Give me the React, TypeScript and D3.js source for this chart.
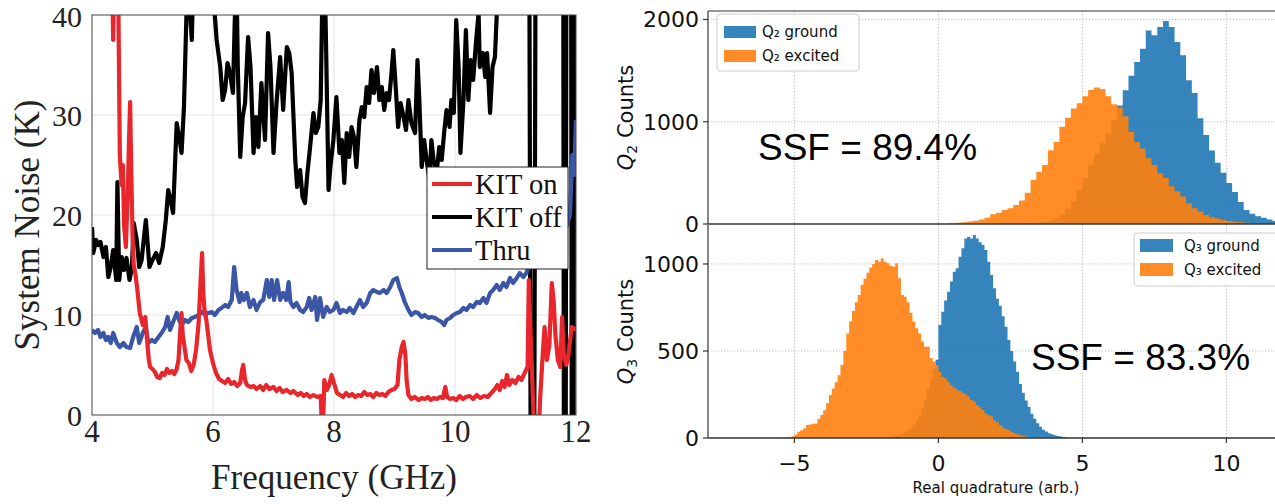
import * as d3 from "d3";

// ---------- left panel: system noise (K) vs frequency (GHz) ----------
const kitOn: [number, number][] = [
  [4.33, 45], [4.35, 37.5], [4.37, 45], [4.43, 45], [4.46, 26], [4.49, 23], [4.51, 25], [4.53, 19],
  [4.56, 16.8], [4.59, 22], [4.61, 27], [4.63, 31.3], [4.65, 24], [4.67, 18], [4.69, 15], [4.72, 14],
  [4.75, 12.5], [4.79, 10.2], [4.84, 9], [4.88, 9.8], [4.91, 7.5], [4.94, 5.5], [4.96, 4.8], [5.0, 4.6],
  [5.04, 4.3], [5.08, 3.8], [5.12, 3.7], [5.16, 4.2], [5.2, 4.0], [5.24, 4.6], [5.28, 4.2], [5.32, 4.4],
  [5.36, 4.1], [5.4, 4.6], [5.43, 5.5], [5.46, 8.5], [5.48, 10.2], [5.5, 8], [5.53, 6.8], [5.56, 5.5],
  [5.6, 5.2], [5.64, 4.4], [5.68, 5], [5.72, 6.5], [5.76, 9], [5.8, 14], [5.82, 16.2], [5.84, 12],
  [5.86, 10.5], [5.89, 9.5], [5.92, 8], [5.95, 6.5], [6.0, 5.2], [6.05, 4.2], [6.1, 3.6], [6.15, 3.4],
  [6.2, 3.2], [6.25, 3.6], [6.3, 3.1], [6.35, 3.3], [6.4, 2.9], [6.45, 3.2], [6.48, 4.5], [6.5, 5.0],
  [6.53, 3.5], [6.56, 3.0], [6.62, 2.8], [6.67, 2.9], [6.72, 2.6], [6.78, 2.9], [6.83, 2.5], [6.88, 3.0],
  [6.93, 2.6], [7.0, 2.8], [7.05, 2.4], [7.1, 2.7], [7.15, 2.3], [7.22, 2.5], [7.28, 2.2], [7.33, 2.4],
  [7.4, 2.0], [7.45, 2.2], [7.5, 1.9], [7.55, 2.1], [7.6, 1.8], [7.66, 2.0], [7.72, 1.8], [7.78, 1.9],
  [7.8, -1], [7.82, -1], [7.84, 3.5], [7.88, 2.5], [7.92, 3.0], [7.96, 4.0], [8.0, 3.2], [8.05, 2.2],
  [8.1, 2.0], [8.15, 1.8], [8.2, 2.2], [8.25, 1.9], [8.3, 2.1], [8.35, 1.8], [8.4, 2.0], [8.45, 1.9],
  [8.5, 2.3], [8.55, 2.0], [8.6, 2.1], [8.65, 1.8], [8.7, 2.2], [8.75, 2.0], [8.8, 2.1], [8.85, 1.9],
  [8.9, 2.3], [8.95, 2.5], [9.0, 2.6], [9.05, 3], [9.08, 5.5], [9.12, 6.8], [9.15, 7.3], [9.18, 6.0],
  [9.2, 3.5], [9.23, 2.0], [9.28, 1.6], [9.33, 1.8], [9.4, 1.5], [9.45, 1.7], [9.5, 1.6], [9.55, 1.8],
  [9.6, 1.5], [9.65, 1.7], [9.7, 1.6], [9.75, 1.8], [9.8, 1.7], [9.84, 2.8], [9.87, 1.8], [9.92, 1.6],
  [9.97, 1.7], [10.02, 1.5], [10.08, 1.9], [10.13, 1.6], [10.18, 1.8], [10.24, 1.9], [10.3, 1.6],
  [10.36, 2.0], [10.42, 1.7], [10.48, 1.9], [10.54, 1.8], [10.6, 2.2], [10.66, 2.6], [10.7, 3.0],
  [10.74, 2.5], [10.78, 3.4], [10.82, 2.8], [10.86, 4.0], [10.9, 3.0], [10.95, 3.5], [11.0, 3.2],
  [11.05, 3.8], [11.1, 3.5], [11.15, 4.2], [11.2, 4.8], [11.22, 13.5], [11.25, 8], [11.28, 3],
  [11.31, -2], [11.38, -2], [11.41, 2], [11.45, 6], [11.48, 8.8], [11.52, 5.5], [11.56, 7], [11.6, 13.2],
  [11.63, 11.5], [11.66, 8], [11.7, 5.5], [11.74, 4.8], [11.77, 9.8], [11.8, 6], [11.84, 5], [11.87, 5.8],
  [11.93, 8.8], [12.0, 8.5],
];

const kitOff: [number, number][] = [
  [4.0, 18.8], [4.02, 16.2], [4.07, 17.5], [4.1, 17.0], [4.14, 17.3], [4.19, 15.8], [4.23, 16.8],
  [4.27, 13.8], [4.31, 14.8], [4.35, 16.5], [4.4, 13.5], [4.42, 23.3], [4.45, 13.5], [4.49, 15.8],
  [4.53, 14.5], [4.57, 15.7], [4.62, 13.5], [4.66, 14.8], [4.69, 19.2], [4.74, 17.5], [4.78, 14.8],
  [4.82, 15.5], [4.89, 19.5], [4.95, 14.8], [5.0, 15.5], [5.06, 16.2], [5.11, 15.2], [5.17, 16.8],
  [5.22, 19.5], [5.26, 22.5], [5.3, 21.5], [5.34, 20.2], [5.4, 29.2], [5.45, 27.5], [5.48, 26.2],
  [5.52, 30.8], [5.56, 39.8], [5.59, 43], [5.65, 37.5], [5.67, 43], [6.01, 43], [6.03, 40], [6.06, 37.5],
  [6.12, 34.8], [6.16, 31.5], [6.2, 32.5], [6.24, 35.2], [6.28, 34.2], [6.33, 32.2], [6.36, 39.5],
  [6.39, 43], [6.41, 34.8], [6.45, 25.8], [6.49, 29.8], [6.53, 31.2], [6.58, 37.8], [6.62, 34.8],
  [6.67, 26.2], [6.71, 29.8], [6.75, 26.8], [6.8, 33.2], [6.86, 27.5], [6.91, 38.2], [6.95, 34.8],
  [7.0, 26.2], [7.05, 31.2], [7.11, 35.8], [7.16, 30.5], [7.22, 36.8], [7.26, 36.2], [7.3, 34.2],
  [7.36, 25.5], [7.39, 22.8], [7.44, 24.5], [7.48, 21.8], [7.52, 21.2], [7.56, 24.2], [7.6, 26.5],
  [7.66, 30.2], [7.7, 28.2], [7.74, 28.8], [7.78, 31.5], [7.81, 43], [7.85, 43], [7.87, 36.5],
  [7.91, 22.5], [7.94, 24.8], [7.99, 27.5], [8.04, 31.8], [8.09, 26.2], [8.13, 27.5], [8.17, 23.2],
  [8.21, 28.2], [8.25, 25.8], [8.29, 28.8], [8.33, 27.8], [8.37, 24.8], [8.42, 29.5], [8.46, 30.8],
  [8.5, 29.8], [8.54, 32.8], [8.58, 31.2], [8.62, 34.5], [8.66, 32.2], [8.71, 34.8], [8.75, 31.5],
  [8.79, 32.8], [8.83, 30.5], [8.87, 32.2], [8.91, 31.5], [8.95, 34.2], [8.98, 36.5], [9.02, 32.8],
  [9.06, 28.8], [9.1, 31.2], [9.15, 29.8], [9.19, 28.5], [9.23, 31.5], [9.28, 29.2], [9.34, 28.2],
  [9.38, 35.5], [9.41, 31.5], [9.45, 24.8], [9.49, 27.5], [9.53, 25.5], [9.58, 23.5], [9.61, 27.5],
  [9.65, 25.2], [9.7, 24.5], [9.74, 26.8], [9.78, 25.5], [9.82, 28.2], [9.86, 30.5], [9.91, 28.8],
  [9.94, 31.5], [9.98, 30.2], [10.02, 39.5], [10.06, 34.8], [10.09, 26.2], [10.14, 31.5], [10.18, 38.5],
  [10.22, 31.5], [10.26, 35.5], [10.3, 33.5], [10.35, 37.5], [10.39, 40.2], [10.41, 34.8], [10.46, 36.2],
  [10.5, 33.8], [10.53, 36.2], [10.58, 30.2], [10.62, 34.8], [10.66, 35.8], [10.69, 40], [10.72, 43],
  [11.23, 43], [11.25, -3], [11.31, -3], [11.33, 43], [11.79, 43], [11.8, -3], [11.83, -3], [11.84, 43],
  [11.92, 43], [11.93, -3], [11.96, -3], [11.97, 43], [12.0, 43],
];

const thru: [number, number][] = [
  [4.0, 8.5], [4.05, 8.2], [4.1, 8.5], [4.14, 7.8], [4.19, 8.2], [4.23, 7.5], [4.27, 7.8], [4.31, 7.2],
  [4.35, 8.2], [4.41, 7.2], [4.46, 6.8], [4.52, 7.2], [4.57, 6.8], [4.63, 6.7], [4.68, 7.8], [4.74, 8.8],
  [4.78, 7.2], [4.84, 8.2], [4.89, 8.8], [4.93, 7.2], [4.99, 7.5], [5.04, 7.3], [5.1, 7.8], [5.15, 8.2],
  [5.21, 8.8], [5.25, 9.8], [5.29, 8.5], [5.34, 9.3], [5.4, 10.2], [5.44, 9.5], [5.48, 9.0], [5.54, 9.5],
  [5.59, 9.3], [5.65, 9.7], [5.7, 9.8], [5.76, 10.0], [5.81, 10.3], [5.87, 10.0], [5.92, 10.2],
  [5.98, 10.3], [6.03, 10.0], [6.09, 10.5], [6.14, 10.7], [6.2, 11.0], [6.25, 10.8], [6.31, 11.5],
  [6.35, 14.8], [6.39, 12.5], [6.44, 11.3], [6.47, 12.2], [6.51, 11.5], [6.56, 12.2], [6.61, 10.8],
  [6.67, 11.5], [6.72, 10.5], [6.78, 11.3], [6.83, 11.5], [6.89, 13.5], [6.93, 11.8], [6.97, 13.5],
  [7.01, 11.5], [7.06, 13.5], [7.11, 11.5], [7.16, 12.2], [7.21, 11.5], [7.25, 13.3], [7.28, 11.3],
  [7.33, 10.8], [7.38, 11.2], [7.44, 10.5], [7.49, 10.3], [7.55, 10.8], [7.59, 11.7], [7.63, 10.5],
  [7.69, 11.8], [7.72, 9.5], [7.77, 11.7], [7.82, 9.8], [7.88, 10.8], [7.93, 10.3], [7.99, 10.5],
  [8.04, 11.2], [8.1, 10.2], [8.15, 10.5], [8.21, 10.3], [8.26, 10.7], [8.32, 10.2], [8.37, 10.8],
  [8.43, 11.5], [8.48, 10.8], [8.54, 11.2], [8.6, 12.2], [8.65, 12.5], [8.71, 12.3], [8.76, 12.2],
  [8.82, 12.5], [8.87, 12.2], [8.93, 12.8], [8.98, 13.5], [9.04, 13.7], [9.08, 12.8], [9.12, 12.2],
  [9.17, 11.3], [9.23, 10.5], [9.28, 10.0], [9.34, 10.3], [9.39, 10.2], [9.45, 9.8], [9.5, 10.0],
  [9.56, 9.7], [9.61, 9.8], [9.67, 9.7], [9.72, 9.5], [9.78, 9.3], [9.82, 9.0], [9.86, 9.5], [9.92, 9.7],
  [9.97, 10.0], [10.03, 10.2], [10.08, 10.3], [10.14, 10.7], [10.19, 10.5], [10.25, 11.0], [10.3, 10.8],
  [10.36, 11.3], [10.41, 11.2], [10.47, 11.7], [10.52, 11.2], [10.58, 12.2], [10.63, 12.5], [10.69, 13.0],
  [10.74, 12.5], [10.8, 13.2], [10.85, 12.8], [10.91, 13.7], [10.96, 13.2], [11.02, 13.7], [11.07, 14.2],
  [11.13, 13.8], [11.18, 14.2], [11.24, 15.2], [11.4, 16], [11.6, 17], [11.8, 18], [11.9, 20],
  [11.94, 26], [11.97, 24], [12.0, 29.5],
];

const noiseTicksX = [4, 6, 8, 10, 12];
const noiseTicksY = [0, 10, 20, 30, 40];
const noiseLegend = ["KIT on", "KIT off", "Thru"];

// ---------- right panels: histograms of the real quadrature ----------
const q2BinWidth = 0.2;
const q2GroundStart = 3.0;
const q2Ground = [
  4, 8, 14, 22, 35, 55, 90, 150, 220, 330, 450, 580, 690, 790, 888, 1015, 1160, 1308, 1450, 1584,
  1715, 1893, 1845, 1926, 1984, 1926, 1780, 1650, 1405, 1280, 1035, 870, 720, 600, 500, 400, 312, 215,
  137, 100, 75, 60, 45, 30,
];
const q2ExcitedStart = 0.4;
const q2Excited = [
  8, 12, 18, 25, 32, 45, 60, 95, 110, 137, 154, 185, 230, 306, 430, 510, 576, 722, 803, 950, 1038,
  1130, 1180, 1250, 1310, 1335, 1320, 1250, 1170, 1140, 1054, 900, 803, 738, 644, 576, 497, 449, 370,
  320, 270, 202, 154, 120, 88, 66, 55, 39, 30, 23, 18, 12, 8, 5, 3,
];

const q3BinWidth = 0.1;
const q3GroundStart = -2.0;
const q3Ground = [
  2, 3, 5, 7, 10, 14, 18, 24, 32, 42, 55, 75, 100, 130, 170, 220, 280, 340, 400, 450,
  650, 726, 790, 840, 900, 956, 975, 1042, 1090, 1147, 1157, 1147, 1166, 1147, 1125, 1109, 1080, 1013,
  937, 861, 800, 760, 700, 640, 563, 500, 440, 380, 310, 260, 215, 180, 140, 110, 85, 65, 48, 38, 28,
  22, 16, 12, 9, 6, 4, 2,
];
const q3ExcitedStart = -5.5;
const q3Excited = [
  1, 2, 3, 5, 10, 20, 36, 45, 55, 75, 78, 82, 84, 110, 132, 160, 200, 247, 285, 320, 360, 420, 500,
  600, 670, 730, 780, 822, 880, 915, 950, 980, 1000, 1023, 1013, 1033, 1013, 1004, 990, 985, 1004, 918,
  822, 812, 780, 720, 670, 630, 600, 554, 525, 525, 460, 439, 420, 381, 352, 343, 324, 305, 290, 278,
  270, 260, 250, 238, 218, 209, 190, 175, 161, 142, 132, 123, 100, 90, 75, 62, 52, 44, 35, 27, 22, 17,
  13, 9, 6, 4, 3, 2, 1, 1,
];

const quadTicksX = [-5, 0, 5, 10];
const q2TicksY = [0, 1000, 2000];
const q3TicksY = [0, 500, 1000];

const serif = "Liberation Serif";
const sans = "DejaVu Sans";

const colKitOn = "#e8262b";
const colKitOff = "#000000";
const colThru = "#3b56a6";
const colGround = "#1f77b4";
const colExcited = "#ff7f0e";

type Bin = { x: number; c: number };

function toBins(start: number, width: number, counts: number[]): Bin[] {
  const bins = counts.map((c, i) => ({ x: start + i * width, c }));
  bins.push({ x: start + counts.length * width, c: 0 });
  return bins;
}

export default function App() {
  const W = 1275;
  const H = 504;

  // left panel scales
  const xF = d3.scaleLinear().domain([4, 12]).range([92, 576]);
  const yK = d3.scaleLinear().domain([0, 40]).range([415, 15]);
  const noiseLine = d3
    .line<[number, number]>()
    .x((d) => xF(d[0]))
    .y((d) => yK(d[1]));

  // right panel scales
  const xQ = d3.scaleLinear().domain([-8, 12]).range([708, 1284]);
  const yTop = d3.scaleLinear().domain([0, 2083]).range([224, 11]);
  const yBot = d3.scaleLinear().domain([0, 1224]).range([438, 225]);

  const histArea = (y: d3.ScaleLinear<number, number>) =>
    d3
      .area<Bin>()
      .curve(d3.curveStepAfter)
      .x((d) => xQ(d.x))
      .y0(y(0))
      .y1((d) => y(d.c));

  const [fx0, fx1] = xF.range();
  const [ky0, ky1] = [yK(40), yK(0)];
  const qx0 = xQ(-8);

  const legendRows = [colKitOn, colKitOff, colThru];

  return (
    <svg
      width={W}
      height={H}
      style={{ position: "absolute", left: 0, top: 0, background: "#fff" }}
    >
      <defs>
        <clipPath id="clipNoise">
          <rect x={fx0} y={ky0} width={fx1 - fx0} height={ky1 - ky0} />
        </clipPath>
        <clipPath id="clipTop">
          <rect x={qx0} y={yTop(2083)} width={W - qx0} height={yTop(0) - yTop(2083)} />
        </clipPath>
        <clipPath id="clipBot">
          <rect x={qx0} y={yBot(1224)} width={W - qx0} height={yBot(0) - yBot(1224)} />
        </clipPath>
      </defs>

      {/* ---------------- left panel ---------------- */}
      <g>
        {noiseTicksX.slice(1, -1).map((t) => (
          <line key={"gx" + t} x1={xF(t)} x2={xF(t)} y1={ky0} y2={ky1} stroke="#e3e3e3" strokeWidth={1} />
        ))}
        {noiseTicksY.slice(1, -1).map((t) => (
          <line key={"gy" + t} x1={fx0} x2={fx1} y1={yK(t)} y2={yK(t)} stroke="#e3e3e3" strokeWidth={1} />
        ))}
        <g clipPath="url(#clipNoise)" fill="none" strokeWidth={4.2} strokeLinejoin="round">
          <path d={noiseLine(kitOff) ?? ""} stroke={colKitOff} />
          <path d={noiseLine(thru) ?? ""} stroke={colThru} />
          <path d={noiseLine(kitOn) ?? ""} stroke={colKitOn} />
        </g>
        <rect x={fx0} y={ky0} width={fx1 - fx0} height={ky1 - ky0} fill="none" stroke="#444" strokeWidth={1} />
        {noiseTicksX.map((t) => (
          <text key={"tx" + t} x={xF(t)} y={442} textAnchor="middle" fontFamily={serif} fontSize={31} fill="#222">
            {t}
          </text>
        ))}
        {noiseTicksY.map((t) => (
          <text key={"ty" + t} x={82} y={yK(t) + (t === 40 ? 1 : 0)} dy="0.35em" textAnchor="end" fontFamily={serif} fontSize={30} fill="#222">
            {t}
          </text>
        ))}
        <text x={(fx0 + fx1) / 2} y={489} textAnchor="middle" fontFamily={serif} fontSize={35} fill="#222">
          Frequency (GHz)
        </text>
        <text
          transform={`translate(39,${(ky0 + ky1) / 2 + 10}) rotate(-90)`}
          textAnchor="middle"
          fontFamily={serif}
          fontSize={35}
          fill="#222"
        >
          System Noise (K)
        </text>
        {/* legend */}
        <rect x={427} y={167} width={141} height={102} fill="#fff" stroke="#222" strokeWidth={1} />
        {noiseLegend.map((name, i) => (
          <g key={name} transform={`translate(0,${184 + i * 33})`}>
            <line x1={432} x2={472} y1={0} y2={0} stroke={legendRows[i]} strokeWidth={4} />
            <text x={475} y={10} fontFamily={serif} fontSize={28.5} fill="#111">
              {name}
            </text>
          </g>
        ))}
      </g>

      {/* ---------------- right top panel (Q2) ---------------- */}
      <g>
        {quadTicksX.map((t) => (
          <line key={"g2x" + t} x1={xQ(t)} x2={xQ(t)} y1={yTop(2083)} y2={yTop(0)} stroke="#b0b0b0" strokeWidth={0.9} strokeDasharray="1.2,2" />
        ))}
        {q2TicksY.slice(1).map((t) => (
          <line key={"g2y" + t} x1={qx0} x2={W} y1={yTop(t)} y2={yTop(t)} stroke="#b0b0b0" strokeWidth={0.9} strokeDasharray="1.2,2" />
        ))}
        <g clipPath="url(#clipTop)">
          <path d={histArea(yTop)(toBins(q2GroundStart, q2BinWidth, q2Ground)) ?? ""} fill={colGround} fillOpacity={0.9} />
          <path d={histArea(yTop)(toBins(q2ExcitedStart, q2BinWidth, q2Excited)) ?? ""} fill={colExcited} fillOpacity={0.9} />
        </g>
        <line x1={qx0} x2={qx0} y1={yTop(2083)} y2={yTop(0)} stroke="#333" strokeWidth={1.2} />
        <line x1={qx0} x2={W} y1={yTop(2083)} y2={yTop(2083)} stroke="#333" strokeWidth={1.2} />
        <line x1={qx0} x2={W} y1={yTop(0)} y2={yTop(0)} stroke="#333" strokeWidth={1.5} />
        {q2TicksY.map((t) => (
          <g key={"t2y" + t}>
            <line x1={qx0 - 5} x2={qx0} y1={yTop(t)} y2={yTop(t)} stroke="#333" strokeWidth={1.2} />
            <text x={qx0 - 9} y={yTop(t)} dy="0.36em" textAnchor="end" fontFamily={sans} fontSize={22} fill="#111">
              {t}
            </text>
          </g>
        ))}
        <text
          transform={`translate(633,${(yTop(0) + yTop(2083)) / 2}) rotate(-90)`}
          textAnchor="middle"
          fontFamily={sans}
          fontSize={21}
          fill="#111"
        >
          <tspan fontStyle="italic">Q</tspan>
          <tspan fontSize={14} dy={4}>2</tspan>
          <tspan dy={-4}> Counts</tspan>
        </text>
        <rect x={717} y={14} width={142} height={57} rx={3} fill="#fff" fillOpacity={0.8} stroke="#cccccc" strokeWidth={1} />
        <rect x={724} y={26} width={32} height={12} fill={colGround} fillOpacity={0.9} />
        <rect x={724} y={50} width={32} height={12} fill={colExcited} fillOpacity={0.9} />
        <text x={762} y={37} fontFamily={sans} fontSize={15} fill="#111">Q₂ ground</text>
        <text x={762} y={61} fontFamily={sans} fontSize={15} fill="#111">Q₂ excited</text>
        <text x={758} y={160} fontFamily="Liberation Sans" fontSize={37} fill="#000">SSF = 89.4%</text>
      </g>

      {/* ---------------- right bottom panel (Q3) ---------------- */}
      <g>
        {quadTicksX.map((t) => (
          <line key={"g3x" + t} x1={xQ(t)} x2={xQ(t)} y1={yBot(1224)} y2={yBot(0)} stroke="#b0b0b0" strokeWidth={0.9} strokeDasharray="1.2,2" />
        ))}
        {q3TicksY.slice(1).map((t) => (
          <line key={"g3y" + t} x1={qx0} x2={W} y1={yBot(t)} y2={yBot(t)} stroke="#b0b0b0" strokeWidth={0.9} strokeDasharray="1.2,2" />
        ))}
        <g clipPath="url(#clipBot)">
          <path d={histArea(yBot)(toBins(q3GroundStart, q3BinWidth, q3Ground)) ?? ""} fill={colGround} fillOpacity={0.9} />
          <path d={histArea(yBot)(toBins(q3ExcitedStart, q3BinWidth, q3Excited)) ?? ""} fill={colExcited} fillOpacity={0.9} />
        </g>
        <line x1={qx0} x2={qx0} y1={yBot(1224)} y2={yBot(0)} stroke="#333" strokeWidth={1.2} />
        <line x1={qx0} x2={W} y1={yBot(0)} y2={yBot(0)} stroke="#333" strokeWidth={1.5} />
        {q3TicksY.map((t) => (
          <g key={"t3y" + t}>
            <line x1={qx0 - 5} x2={qx0} y1={yBot(t)} y2={yBot(t)} stroke="#333" strokeWidth={1.2} />
            <text x={qx0 - 9} y={yBot(t)} dy="0.36em" textAnchor="end" fontFamily={sans} fontSize={22} fill="#111">
              {t}
            </text>
          </g>
        ))}
        {quadTicksX.map((t) => (
          <g key={"t3x" + t}>
            <line x1={xQ(t)} x2={xQ(t)} y1={yBot(0)} y2={yBot(0) + 5} stroke="#333" strokeWidth={1.2} />
            <text x={xQ(t)} y={471} textAnchor="middle" fontFamily={sans} fontSize={22} fill="#111">
              {t < 0 ? "\u2212" + Math.abs(t) : t}
            </text>
          </g>
        ))}
        <text x={(qx0 + 1284) / 2} y={493} textAnchor="middle" fontFamily={sans} fontSize={15} fill="#111">
          Real quadrature (arb.)
        </text>
        <text
          transform={`translate(633,${(yBot(0) + yBot(1224)) / 2}) rotate(-90)`}
          textAnchor="middle"
          fontFamily={sans}
          fontSize={21}
          fill="#111"
        >
          <tspan fontStyle="italic">Q</tspan>
          <tspan fontSize={14} dy={4}>3</tspan>
          <tspan dy={-4}> Counts</tspan>
        </text>
        <rect x={1134} y={233} width={150} height={53} rx={3} fill="#fff" fillOpacity={0.8} stroke="#cccccc" strokeWidth={1} />
        <rect x={1140} y={239} width={33} height={13} fill={colGround} fillOpacity={0.9} />
        <rect x={1140} y={263} width={33} height={13} fill={colExcited} fillOpacity={0.9} />
        <text x={1184} y={251} fontFamily={sans} fontSize={15} fill="#111">Q₃ ground</text>
        <text x={1184} y={275} fontFamily={sans} fontSize={15} fill="#111">Q₃ excited</text>
        <text x={1031} y={370} fontFamily="Liberation Sans" fontSize={37} fill="#000">SSF = 83.3%</text>
      </g>
    </svg>
  );
}
